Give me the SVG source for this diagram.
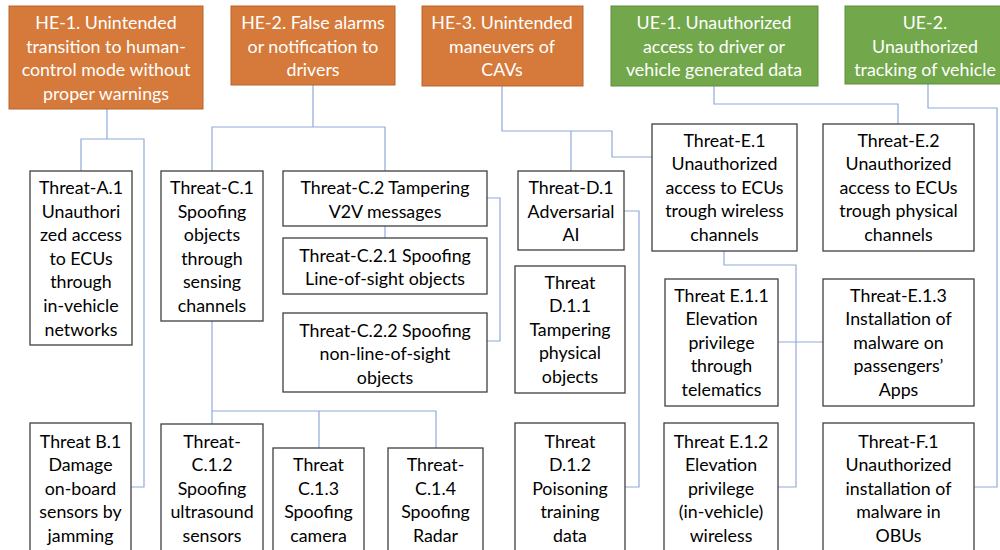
<svg xmlns="http://www.w3.org/2000/svg" width="1000" height="550" viewBox="0 0 1000 550">
  <style>
    .he { fill: #D57A3A; stroke: #B9652B; stroke-width: 1; }
    .ue { fill: #72A84B; stroke: #5E8F3C; stroke-width: 1; }
    .box { fill: #FFFFFF; stroke: #3F3F3F; stroke-width: 1.3; }
    text { font-family: Lato, "Liberation Sans", sans-serif; font-size: 17.8px; text-anchor: middle; }
    .w { fill: #FFFFFF; }
    .k { fill: #000000; }
    .conn { fill: none; stroke: #8FAADC; stroke-width: 1.2; }
  </style>

  <!-- connectors -->
  <g id="connectors" class="conn">
    <path d="M107,109 V139 M81,171 V139 H144 V487 H131"/>
    <path d="M313,85 V127 M212,171 V127 H385 V171"/>
    <path d="M212,321 V424 M212,411 H436 V448 M319,411 V448"/>
    <path d="M385,226 V238"/>
    <path d="M487,198 H500 V341 H487"/>
    <path d="M502,86 V131 H612 V157 H652 M571,131 V171"/>
    <path d="M624,211 H639 V487 H625"/>
    <path d="M714,86 V104 H898 V124"/>
    <path d="M928,84 V108 H997 V487 H974"/>
    <path d="M724,251 V265 H796 V487 H778 M778,342 H823"/>
  </g>

  <!-- top-level events -->
  <g id="he1">
    <rect class="he" x="9" y="6" width="194" height="103"/>
    <text class="w" x="106" y="29">HE-1. Unintended</text>
    <text class="w" x="106" y="52.6">transition to human-</text>
    <text class="w" x="106" y="76.2">control mode without</text>
    <text class="w" x="106" y="99.8">proper warnings</text>
  </g>
  <g id="he2">
    <rect class="he" x="231" y="6" width="164" height="79"/>
    <text class="w" x="313" y="29">HE-2. False alarms</text>
    <text class="w" x="313" y="52.6">or notification to</text>
    <text class="w" x="313" y="76.2">drivers</text>
  </g>
  <g id="he3">
    <rect class="he" x="422" y="6" width="161" height="80"/>
    <text class="w" x="502" y="29">HE-3. Unintended</text>
    <text class="w" x="502" y="52.6">maneuvers of</text>
    <text class="w" x="502" y="76.2">CAVs</text>
  </g>
  <g id="ue1">
    <rect class="ue" x="611" y="6" width="207" height="80"/>
    <text class="w" x="714" y="29">UE-1. Unauthorized</text>
    <text class="w" x="714" y="52.6">access to driver or</text>
    <text class="w" x="714" y="76.2">vehicle generated data</text>
  </g>
  <g id="ue2">
    <rect class="ue" x="845" y="6" width="165" height="78"/>
    <text class="w" x="925" y="29">UE-2.</text>
    <text class="w" x="925" y="52.6">Unauthorized</text>
    <text class="w" x="925" y="76.2">tracking of vehicle</text>
  </g>

  <!-- threats -->
  <g id="threat-a1">
    <rect class="box" x="30" y="171" width="102" height="174"/>
    <text class="k" x="81" y="194">Threat-A.1</text>
    <text class="k" x="81" y="217.6">Unauthori</text>
    <text class="k" x="81" y="241.2">zed access</text>
    <text class="k" x="81" y="264.8">to ECUs</text>
    <text class="k" x="81" y="288.4">through</text>
    <text class="k" x="81" y="312">in-vehicle</text>
    <text class="k" x="81" y="335.6">networks</text>
  </g>
  <g id="threat-c1">
    <rect class="box" x="161" y="171" width="102" height="150"/>
    <text class="k" x="212" y="194">Threat-C.1</text>
    <text class="k" x="212" y="217.6">Spoofing</text>
    <text class="k" x="212" y="241.2">objects</text>
    <text class="k" x="212" y="264.8">through</text>
    <text class="k" x="212" y="288.4">sensing</text>
    <text class="k" x="212" y="312">channels</text>
  </g>
  <g id="threat-c2">
    <rect class="box" x="283" y="171" width="204" height="55"/>
    <text class="k" x="385" y="194">Threat-C.2 Tampering</text>
    <text class="k" x="385" y="217.6">V2V messages</text>
  </g>
  <g id="threat-c21">
    <rect class="box" x="283" y="238" width="204" height="56"/>
    <text class="k" x="385" y="261.5">Threat-C.2.1 Spoofing</text>
    <text class="k" x="385" y="285">Line-of-sight objects</text>
  </g>
  <g id="threat-c22">
    <rect class="box" x="283" y="313" width="204" height="79"/>
    <text class="k" x="385" y="336.5">Threat-C.2.2 Spoofing</text>
    <text class="k" x="385" y="360">non-line-of-sight</text>
    <text class="k" x="385" y="383.6">objects</text>
  </g>
  <g id="threat-d1">
    <rect class="box" x="518" y="171" width="106" height="79"/>
    <text class="k" x="571" y="194">Threat-D.1</text>
    <text class="k" x="571" y="217.6">Adversarial</text>
    <text class="k" x="571" y="241.2">AI</text>
  </g>
  <g id="threat-d11">
    <rect class="box" x="515" y="266" width="110" height="127"/>
    <text class="k" x="570" y="288.5">Threat</text>
    <text class="k" x="570" y="312.1">D.1.1</text>
    <text class="k" x="570" y="335.7">Tampering</text>
    <text class="k" x="570" y="359.3">physical</text>
    <text class="k" x="570" y="382.9">objects</text>
  </g>
  <g id="threat-e1">
    <rect class="box" x="652" y="124" width="145" height="127"/>
    <text class="k" x="724.5" y="146.6">Threat-E.1</text>
    <text class="k" x="724.5" y="170.2">Unauthorized</text>
    <text class="k" x="724.5" y="193.8">access to ECUs</text>
    <text class="k" x="724.5" y="217.4">trough wireless</text>
    <text class="k" x="724.5" y="241">channels</text>
  </g>
  <g id="threat-e2">
    <rect class="box" x="823" y="124" width="151" height="127"/>
    <text class="k" x="898.5" y="146.6">Threat-E.2</text>
    <text class="k" x="898.5" y="170.2">Unauthorized</text>
    <text class="k" x="898.5" y="193.8">access to ECUs</text>
    <text class="k" x="898.5" y="217.4">trough physical</text>
    <text class="k" x="898.5" y="241">channels</text>
  </g>
  <g id="threat-e11">
    <rect class="box" x="665" y="279" width="113" height="127"/>
    <text class="k" x="721.5" y="301.5">Threat E.1.1</text>
    <text class="k" x="721.5" y="325.1">Elevation</text>
    <text class="k" x="721.5" y="348.7">privilege</text>
    <text class="k" x="721.5" y="372.3">through</text>
    <text class="k" x="721.5" y="395.9">telematics</text>
  </g>
  <g id="threat-e13">
    <rect class="box" x="823" y="279" width="151" height="127"/>
    <text class="k" x="898.5" y="301.5">Threat-E.1.3</text>
    <text class="k" x="898.5" y="325.1">Installation of</text>
    <text class="k" x="898.5" y="348.7">malware on</text>
    <text class="k" x="898.5" y="372.3">passengers’</text>
    <text class="k" x="898.5" y="395.9">Apps</text>
  </g>
  <g id="threat-b1">
    <rect class="box" x="30" y="423" width="101" height="140"/>
    <text class="k" x="80.5" y="447.5">Threat B.1</text>
    <text class="k" x="80.5" y="471.1">Damage</text>
    <text class="k" x="80.5" y="494.7">on-board</text>
    <text class="k" x="80.5" y="518.3">sensors by</text>
    <text class="k" x="80.5" y="541.9">jamming</text>
  </g>
  <g id="threat-c12">
    <rect class="box" x="161" y="424" width="102" height="140"/>
    <text class="k" x="212" y="447.5">Threat-</text>
    <text class="k" x="212" y="471.1">C.1.2</text>
    <text class="k" x="212" y="494.7">Spoofing</text>
    <text class="k" x="212" y="518.3">ultrasound</text>
    <text class="k" x="212" y="541.9">sensors</text>
  </g>
  <g id="threat-c13">
    <rect class="box" x="273" y="448" width="91" height="120"/>
    <text class="k" x="318.5" y="471.1">Threat</text>
    <text class="k" x="318.5" y="494.7">C.1.3</text>
    <text class="k" x="318.5" y="518.3">Spoofing</text>
    <text class="k" x="318.5" y="541.9">camera</text>
  </g>
  <g id="threat-c14">
    <rect class="box" x="388" y="448" width="95" height="120"/>
    <text class="k" x="435.5" y="471.1">Threat-</text>
    <text class="k" x="435.5" y="494.7">C.1.4</text>
    <text class="k" x="435.5" y="518.3">Spoofing</text>
    <text class="k" x="435.5" y="541.9">Radar</text>
  </g>
  <g id="threat-d12">
    <rect class="box" x="515" y="423" width="110" height="140"/>
    <text class="k" x="570" y="447.5">Threat</text>
    <text class="k" x="570" y="471.1">D.1.2</text>
    <text class="k" x="570" y="494.7">Poisoning</text>
    <text class="k" x="570" y="518.3">training</text>
    <text class="k" x="570" y="541.9">data</text>
  </g>
  <g id="threat-e12">
    <rect class="box" x="664" y="423" width="114" height="140"/>
    <text class="k" x="721" y="447.5">Threat E.1.2</text>
    <text class="k" x="721" y="471.1">Elevation</text>
    <text class="k" x="721" y="494.7">privilege</text>
    <text class="k" x="721" y="518.3">(in-vehicle)</text>
    <text class="k" x="721" y="541.9">wireless</text>
  </g>
  <g id="threat-f1">
    <rect class="box" x="823" y="423" width="151" height="140"/>
    <text class="k" x="898.5" y="447.5">Threat-F.1</text>
    <text class="k" x="898.5" y="471.1">Unauthorized</text>
    <text class="k" x="898.5" y="494.7">installation of</text>
    <text class="k" x="898.5" y="518.3">malware in</text>
    <text class="k" x="898.5" y="541.9">OBUs</text>
  </g>
</svg>
